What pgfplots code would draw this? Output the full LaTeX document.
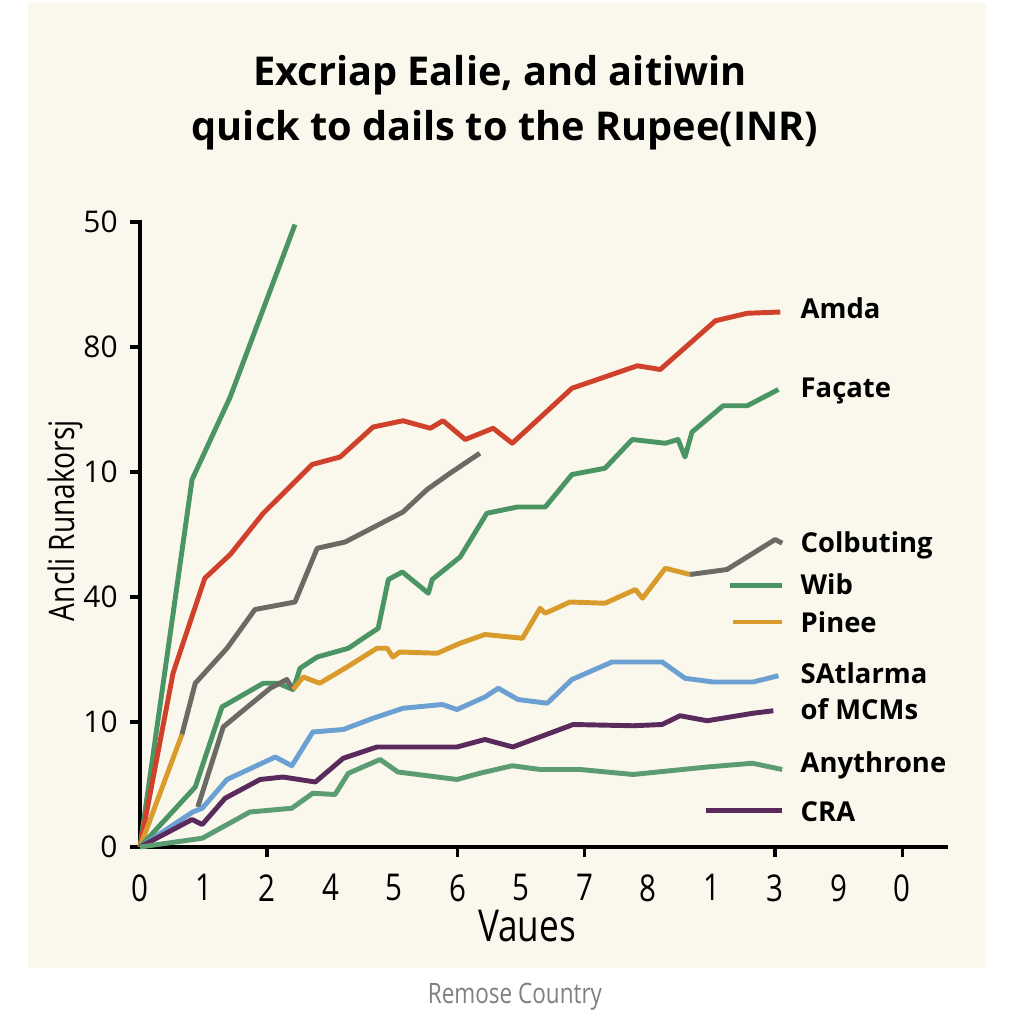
\documentclass[border=0pt]{standalone}
\usepackage{fontspec}
\setmainfont{Open Sans}
\newfontfamily\cond[FakeStretch=0.8]{Open Sans}
\usepackage{pgfplots}
\pgfplotsset{compat=1.18}
\definecolor{cream}{HTML}{FAF8EC}
\definecolor{cgreen}{HTML}{4A9563}
\definecolor{cgreenb}{HTML}{5C9C72}
\definecolor{cred}{HTML}{D0412B}
\definecolor{cgrey}{HTML}{6B6A64}
\definecolor{corange}{HTML}{D89B2C}
\definecolor{cblue}{HTML}{6CA0D2}
\definecolor{cpurple}{HTML}{5B2A5C}
\begin{document}
\begin{tikzpicture}[x=1cm,y=1cm]
\fill[white] (0,0) rectangle (10.24,10.24);
\useasboundingbox (0,0) rectangle (10.24,10.24);
\fill[cream] (0.28,0.56) rectangle (9.86,10.21);
\node[font=\bfseries\fontsize{11.3}{13}\selectfont] at (5.00,9.49) {Excriap Ealie, and aitiwin};
\node[font=\bfseries\fontsize{11.3}{13}\selectfont] at (5.05,8.94) {quick to dails to the Rupee(INR)};
\node[font=\cond\fontsize{8}{10}\selectfont, text=black!50] at (5.15,0.27) {Remose Country};
\begin{axis}[
  at={(1.40cm,1.77cm)}, anchor=south west,
  scale only axis, width=8.08cm, height=6.275cm,
  xmin=0, xmax=12.72, ymin=0, ymax=5.02,
  axis x line*=bottom, axis y line*=left,
  axis line style={line width=1pt, black, -},
  clip=false,
  /pgf/number format/assume math mode=true,
  tick align=outside, major tick length=0.1cm,
  xtick={0,...,12}, xticklabels={0,1,2,4,5,6,5,7,8,1,3,9,0},
  xtick style={draw=none},
  extra x ticks={2,5,7,10,12}, extra x tick labels={},
  extra x tick style={xtick style={draw=black, line width=1pt}},
  ytick={0,...,5}, yticklabels={0,10,40,10,80,50},
  ytick style={line width=1pt, black},
  xticklabel style={font=\cond\fontsize{10.5}{12}\selectfont, yshift=-0.05cm},
  yticklabel style={font=\fontsize{8.5}{10}\selectfont},
  xlabel={Vaues}, xlabel style={font=\cond\fontsize{12.5}{14}\selectfont, at={(axis description cs:0.479,0)}, anchor=center, yshift=-0.79cm},
  ylabel={Ancli Runakorsj}, ylabel style={font=\cond\fontsize{10}{12}\selectfont, at={(axis description cs:0,0.52)}, anchor=center, yshift=0.75cm},
  every axis plot/.append style={line width=1.4pt, no markers, line join=round},
]
% steep green
\addplot[cgreen] coordinates {(0,0) (0.82,2.94) (1.42,3.6) (2.44,4.98)};
% Amda red
\addplot[cred] coordinates {(0,0) (0.52,1.39) (1.02,2.15) (1.42,2.34) (1.94,2.67) (2.71,3.06) (3.15,3.12) (3.67,3.36) (4.14,3.41) (4.57,3.35) (4.77,3.41) (5.12,3.26) (5.56,3.35) (5.86,3.23) (6.80,3.67) (7.83,3.85) (8.19,3.82) (9.06,4.21) (9.56,4.27) (10.08,4.28)};
% grey upper
\addplot[cgrey] coordinates {(0.66,0.90) (0.87,1.31) (1.37,1.59) (1.81,1.90) (2.44,1.96) (2.79,2.39) (3.23,2.44) (4.14,2.68) (4.52,2.86) (4.88,2.99) (5.35,3.15)};
% orange initial
\addplot[corange] coordinates {(0,0) (0.66,0.90)};
% Facate green
\addplot[cgreen] coordinates {(0,0) (0.87,0.48) (1.29,1.12) (1.94,1.31) (2.17,1.31) (2.41,1.26) (2.52,1.43) (2.79,1.52) (3.28,1.59) (3.75,1.75) (3.91,2.14) (4.13,2.20) (4.54,2.03) (4.60,2.14) (5.04,2.32) (5.46,2.67) (5.94,2.72) (6.38,2.72) (6.80,2.98) (7.32,3.03) (7.75,3.26) (8.27,3.23) (8.47,3.26) (8.58,3.12) (8.69,3.32) (9.18,3.53) (9.56,3.53) (10.05,3.66)};
% grey lower
\addplot[cgrey] coordinates {(0.91,0.32) (1.31,0.96) (1.57,1.07) (2.05,1.27) (2.31,1.34) (2.41,1.26)};
% Pinee orange
\addplot[corange] coordinates {(2.41,1.26) (2.57,1.36) (2.83,1.31) (3.26,1.44) (3.73,1.59) (3.89,1.59) (3.98,1.52) (4.09,1.56) (4.68,1.55) (5.04,1.63) (5.43,1.70) (6.02,1.67) (6.30,1.91) (6.38,1.87) (6.77,1.96) (7.32,1.95) (7.80,2.06) (7.91,1.99) (8.27,2.23) (8.66,2.18)};
% Colbuting grey
\addplot[cgrey] coordinates {(8.66,2.18) (9.24,2.22) (10.0,2.46) (10.11,2.43)};
% SAtlarma blue
\addplot[cblue] coordinates {(0,0) (0.83,0.28) (0.98,0.31) (1.37,0.54) (2.13,0.72) (2.39,0.65) (2.72,0.92) (3.20,0.94) (3.67,1.03) (4.14,1.11) (4.76,1.14) (4.99,1.10) (5.43,1.20) (5.64,1.27) (5.95,1.18) (6.41,1.15) (6.80,1.34) (7.43,1.48) (8.22,1.48) (8.58,1.35) (9.02,1.32) (9.65,1.32) (10.05,1.37)};
% MCMs purple
\addplot[cpurple] coordinates {(0,0) (0.82,0.22) (0.98,0.18) (1.34,0.39) (1.89,0.54) (2.25,0.56) (2.76,0.52) (3.20,0.71) (3.73,0.80) (4.99,0.80) (5.43,0.86) (5.87,0.80) (6.82,0.98) (7.76,0.97) (8.22,0.98) (8.50,1.05) (8.93,1.01) (9.65,1.07) (9.97,1.09)};
% Anythrone green
\addplot[cgreenb] coordinates {(0,0) (0.98,0.07) (1.73,0.28) (2.39,0.31) (2.72,0.43) (3.07,0.42) (3.28,0.59) (3.78,0.70) (4.06,0.60) (4.99,0.54) (5.35,0.59) (5.86,0.65) (6.30,0.62) (6.93,0.62) (7.76,0.58) (8.93,0.64) (9.64,0.67) (10.11,0.62)};
% key lines
\addplot[cgreen] coordinates {(9.29,2.09) (10.11,2.09)};
\addplot[corange] coordinates {(9.34,1.80) (10.11,1.80)};
\addplot[cpurple] coordinates {(8.91,0.29) (10.11,0.29)};
\begin{scope}[every node/.style={anchor=west, inner sep=0pt, font=\bfseries\fontsize{7.8}{9}\selectfont}]
\node at (axis cs:10.39,4.31) {Amda};
\node at (axis cs:10.39,3.65) {Façate};
\node at (axis cs:10.39,2.41) {Colbuting};
\node at (axis cs:10.39,2.10) {Wib};
\node at (axis cs:10.39,1.80) {Pinee};
\node at (axis cs:10.39,1.39) {SAtlarma};
\node at (axis cs:10.39,1.10) {of MCMs};
\node at (axis cs:10.39,0.65) {Anythrone};
\node at (axis cs:10.39,0.28) {CRA};
\end{scope}
\end{axis}
\end{tikzpicture}
\end{document}
